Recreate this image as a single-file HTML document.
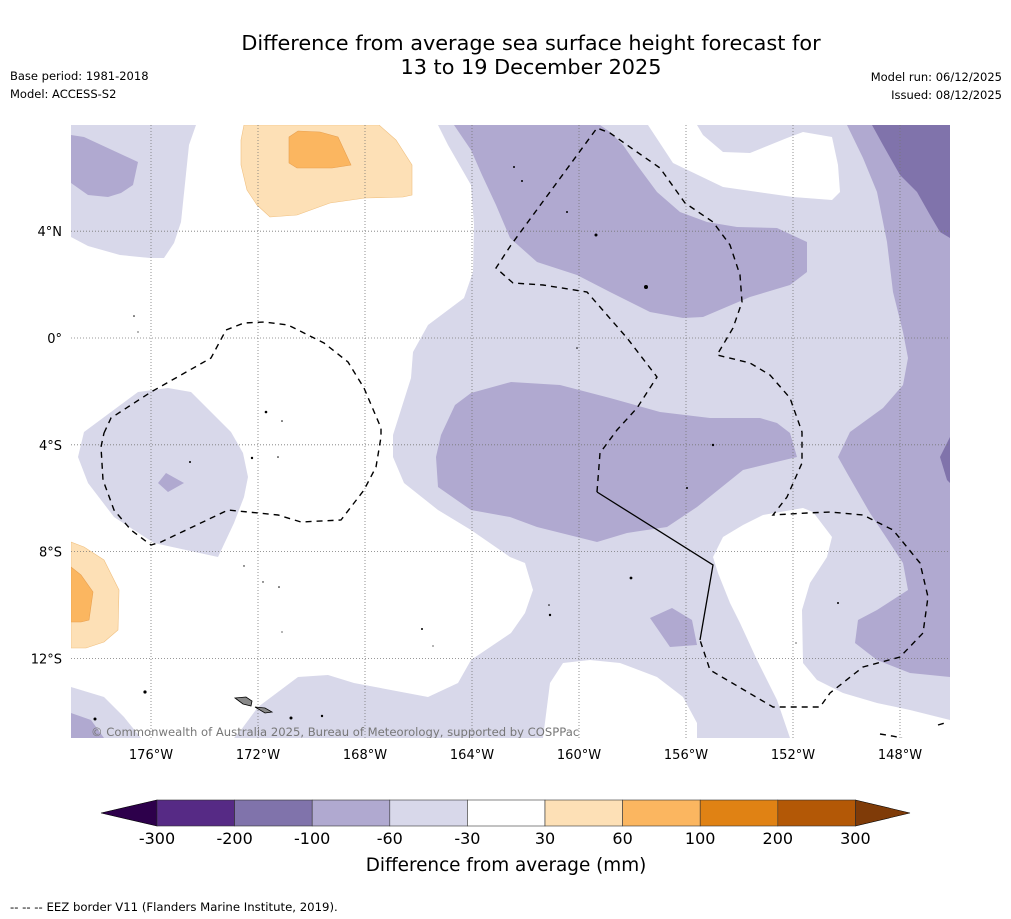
<!DOCTYPE html>
<html><head><meta charset="utf-8">
<style>
body{margin:0;background:#fff;font-family:"DejaVu Sans","Liberation Sans",sans-serif;}
#wrap{position:relative;width:1011px;height:919px;overflow:hidden;}
</style></head>
<body>
<div id="wrap">
<svg id="svg" width="1011" height="919" viewBox="0 0 1011 919" xmlns="http://www.w3.org/2000/svg" font-family="DejaVu Sans, Liberation Sans, sans-serif">
<text x="531" y="50" font-size="20.8" text-anchor="middle">Difference from average sea surface height forecast for</text>
<text x="531" y="74" font-size="20.8" text-anchor="middle">13 to 19 December 2025</text>
<text x="10" y="80" font-size="11.5">Base period: 1981-2018</text>
<text x="10" y="98" font-size="11.5">Model: ACCESS-S2</text>
<text x="1002" y="81" font-size="11.5" text-anchor="end">Model run: 06/12/2025</text>
<text x="1002" y="99" font-size="11.5" text-anchor="end">Issued: 08/12/2025</text>
<defs><clipPath id="mapclip"><rect x="71" y="125" width="879" height="613"/></clipPath></defs>
<g clip-path="url(#mapclip)">
<rect x="71" y="125" width="879" height="613" fill="#ffffff"/>
<g fill="#d8d8ea">
<polygon points="71,125 196,125 189,145 181,222 174,243 164,258 150,258 120,255 88,246 71,237"/>
<polygon points="438,125 950,125 950,720 910,710 877,703 843,693 817,680 803,663 802,610 810,583 827,557 832,537 813,512 803,508 763,515 743,525 723,537 713,557 718,573 730,603 740,623 757,660 777,700 790,738 697,738 697,723 683,697 657,677 620,663 590,660 563,663 550,683 543,738 234,738 241,730 258,707 298,677 328,675 354,683 428,697 458,683 471,660 511,633 525,613 533,590 525,563 510,557 471,530 438,510 404,483 393,457 393,435 411,378 413,352 428,325 464,298 473,272 474,225 471,185 448,145"/>
<polygon points="84,432 138,392 168,388 191,392 214,415 231,432 243,453 248,477 244,497 234,523 218,557 154,543 114,517 88,483 78,457"/>
<polygon points="71,687 104,697 124,717 141,738 71,738"/>
</g>
<polygon fill="#ffffff" points="648,125 673,163 723,187 793,197 832,200 840,192 838,165 832,137 803,132 787,138 750,153 723,152 703,135 697,125"/>
<g fill="#b0a9d0">
<polygon points="71,135 84,137 138,162 133,185 121,193 108,197 88,195 71,183"/>
<polygon points="158,483 166,473 184,483 168,492"/>
<polygon points="454,125 600,125 610,132 623,145 637,165 657,192 680,212 707,222 737,227 777,228 807,242 807,272 790,285 750,297 703,317 683,318 650,312 610,292 577,275 537,262 510,238 496,205 482,175 471,150"/>
<polygon points="441,435 455,405 471,393 511,382 560,385 610,398 660,412 710,418 760,418 777,423 790,433 797,457 743,470 697,507 667,527 627,533 597,542 577,537 537,527 510,517 471,510 438,487 436,457"/>
<polygon points="650,618 672,608 692,620 697,645 670,647"/>
<polygon points="847,125 950,125 950,677 910,673 877,660 855,643 858,620 877,610 908,590 903,563 870,513 847,473 838,457 850,432 883,408 903,385 908,358 903,332 893,292 887,242 877,192 863,158"/>
<polygon points="71,713 91,720 104,738 71,738"/>
</g>
<g fill="#8073ab">
<polygon points="872,125 950,125 950,238 940,232 930,215 917,192 900,175 883,145"/>
<polygon points="950,437 940,457 947,480 950,483"/>
</g>
<g fill="#fde0b6" stroke="#f0c080" stroke-width="0.6">
<polygon points="244,125 379,125 396,140 412,165 412,195 403,197 365,198 330,203 297,215 270,217 257,205 247,190 241,165 241,140"/>
<polygon points="71,542 84,547 104,560 119,590 118,630 104,642 86,648 71,648"/>
</g>
<g fill="#fbb660" stroke="#e8a050" stroke-width="0.6">
<polygon points="289,137 298,131 320,132 338,137 351,165 332,168 297,168 289,163"/>
<polygon points="71,567 81,575 93,592 89,620 81,622 71,622"/>
</g>
<g id="grid" stroke="#777" stroke-width="0.8" stroke-dasharray="1,2"></g>
<g fill="none" stroke="#000" stroke-width="1.4" stroke-dasharray="6,5">
<polyline points="104,433 111,418 151,392 211,358 226,330 244,323 264,322 288,325 324,343 348,362 364,388 381,428 381,437 376,467 364,490 341,520 301,522 278,515 228,510 161,542 151,545 131,530 114,510 103,480 101,447 104,433"/>
<polyline points="597,492 600,453 617,430 637,408 657,377 627,338 587,292 543,285 513,283 496,268 511,245 597,128 610,133 637,152 660,168 685,203 713,222 730,245 740,275 742,302 733,328 717,355 750,363 770,375 790,398 802,432 802,463 787,497 773,515 807,513 830,512 863,515 893,530 920,563 928,597 923,633 900,657 863,667 830,693 820,707 773,707 710,670 700,640"/>
<polyline points="880,734 892,736 902,738"/>
<polyline points="938,725 948,722"/>
</g>
<polyline fill="none" stroke="#000" stroke-width="1.3" points="700,640 713,565 597,492"/>
<g fill="#000">
<circle cx="514" cy="167" r="1"/><circle cx="522" cy="181" r="1"/><circle cx="567" cy="212" r="1"/><circle cx="596" cy="235" r="1.5"/><circle cx="646" cy="287" r="2"/>
<circle cx="134" cy="316" r="0.8"/><circle cx="138" cy="332" r="0.6"/><circle cx="266" cy="412" r="1.3"/><circle cx="282" cy="421" r="0.8"/><circle cx="190" cy="462" r="1"/><circle cx="252" cy="458" r="1.2"/><circle cx="278" cy="457" r="0.8"/>
<circle cx="577" cy="348" r="0.8"/><circle cx="713" cy="445" r="1.2"/><circle cx="687" cy="488" r="1"/><circle cx="631" cy="578" r="1.4"/><circle cx="549" cy="605" r="0.8"/><circle cx="550" cy="615" r="1.2"/>
<circle cx="244" cy="566" r="0.7"/><circle cx="263" cy="582" r="0.7"/><circle cx="279" cy="587" r="0.8"/><circle cx="282" cy="632" r="0.6"/><circle cx="422" cy="629" r="1"/><circle cx="433" cy="646" r="0.6"/>
<circle cx="145" cy="692" r="1.6"/><circle cx="95" cy="719" r="1.5"/><circle cx="291" cy="718" r="1.5"/><circle cx="322" cy="716" r="1.2"/><circle cx="838" cy="603" r="1"/><circle cx="796" cy="643" r="0.6"/>
</g>
<polygon fill="#888" stroke="#000" stroke-width="0.8" points="235,698 246,697 252,701 251,706 243,704"/>
<polygon fill="#888" stroke="#000" stroke-width="0.8" points="255,707 265,708 272,712 265,713"/>
<text x="91" y="736" font-size="11.6" fill="#777">© Commonwealth of Australia 2025, Bureau of Meteorology, supported by COSPPac</text>
</g>
<g id="xlabels" font-size="13" text-anchor="middle"></g>
<g id="ylabels" font-size="13" text-anchor="end"></g>
<g id="cbar"></g>
<text x="506" y="871" font-size="18.4" text-anchor="middle">Difference from average (mm)</text>
<text x="10" y="911" font-size="11.7">--  --  -- EEZ border V11 (Flanders Marine Institute, 2019).</text>
</svg>
</div>
<script>
const lonTicks = [-176, -172, -168, -164, -160, -156, -152, -148];
const latTicks = [4, 0, -4, -8, -12];
const cbBounds = [-300, -200, -100, -60, -30, 30, 60, 100, 200, 300];
const cbColors = ["#562a85", "#8073ab", "#b0a9d0", "#d8d8ea", "#ffffff", "#fde0b6", "#fbb660", "#e08214", "#b35806"];
const cbUnder = "#2d004b";
const cbOver = "#7f3b08";

const NS = "http://www.w3.org/2000/svg";
function xLon(lon){ return 151 + (lon + 176) * 26.75; }
function yLat(lat){ return 338 - lat * 26.7; }
function cbX(i){ return 157 + i * 77.6; }
function mk(tag, attrs, parent){ const e = document.createElementNS(NS, tag); for (const k in attrs) e.setAttribute(k, attrs[k]); parent.appendChild(e); return e; }

const grid = document.getElementById('grid');
const xl = document.getElementById('xlabels');
const yl = document.getElementById('ylabels');
lonTicks.forEach(function(lon){
  const x = xLon(lon);
  const l = mk('line', {x1:x, y1:125, x2:x, y2:738}, grid);
  
  
  const t = mk('text', {x:x, y:759}, xl);
  t.textContent = Math.abs(lon) + '°W';
  
  
});
latTicks.forEach(function(lat){
  const y = yLat(lat);
  const l = mk('line', {x1:71, y1:y, x2:950, y2:y}, grid);
  
  
  const t = mk('text', {x:62, y:y + 5}, yl);
  t.textContent = lat === 0 ? '0°' : Math.abs(lat) + '°' + (lat > 0 ? 'N' : 'S');
  
  
});

const cb = document.getElementById('cbar');
const cbTop = 800, cbBot = 826, cbMid = 813;
const nSeg = cbColors.length;
const under = mk('polygon', {points: '101,' + cbMid + ' ' + cbX(0) + ',' + cbTop + ' ' + cbX(0) + ',' + cbBot, fill: cbUnder, stroke:'#000', 'stroke-width':0.6}, cb);


const over = mk('polygon', {points: cbX(nSeg) + ',' + cbTop + ' 910,' + cbMid + ' ' + cbX(nSeg) + ',' + cbBot, fill: cbOver, stroke:'#000', 'stroke-width':0.6}, cb);


cbColors.forEach(function(c, i){
  const r = mk('rect', {x:cbX(i), y:cbTop, width:cbX(i+1)-cbX(i), height:cbBot-cbTop, fill:c, stroke:'#333', 'stroke-width':0.6}, cb);
  
  
});
cbBounds.forEach(function(v, i){
  const t = mk('text', {x:cbX(i), y:844, 'font-size':16, 'text-anchor':'middle'}, cb);
  t.textContent = v;
  
  
});
</script>
</body></html>
